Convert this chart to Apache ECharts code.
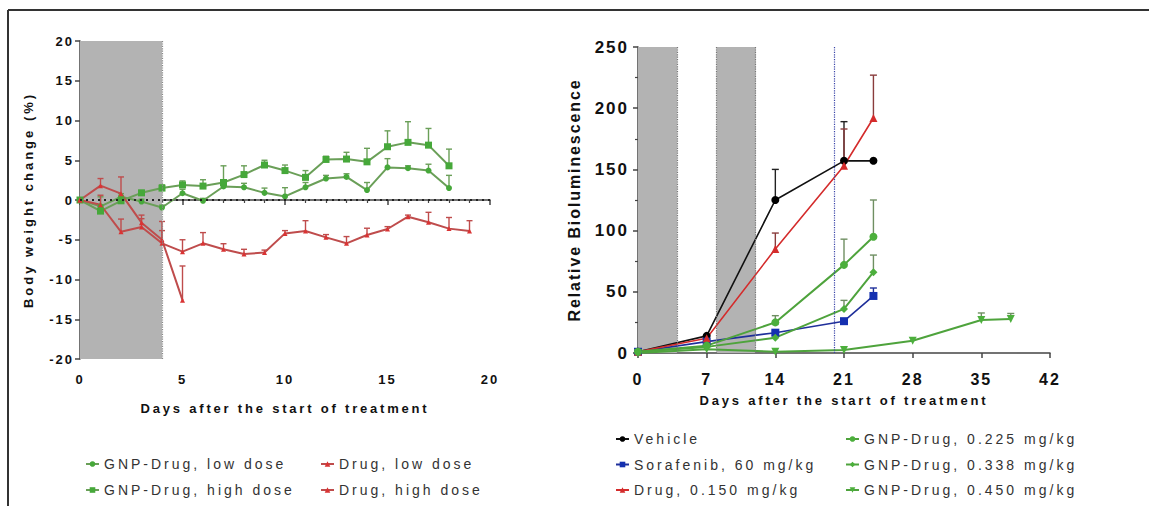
<!DOCTYPE html>
<html><head><meta charset="utf-8">
<script src="https://cdn.jsdelivr.net/npm/echarts@6/dist/echarts.min.js"></script>
<style>html,body{margin:0;padding:0;background:#fff}#c{width:1149px;height:506px}</style>
</head><body><div id="c"></div>
<script>
// ---------- Left chart: body weight change ----------
const leftDays = [0,1,2,3,4,5,6,7,8,9,10,11,12,13,14,15,16,17,18,19];
const gnpLow     = [0,-0.8,0.4,-0.2,-0.95,0.85,-0.1,1.7,1.6,0.9,0.45,1.6,2.7,2.9,1.25,4.1,4.0,3.7,1.5];
const gnpLowErr  = [0,1.2,0.4,0.3,0.3,0.5,0.3,0.5,0.5,0.6,1.1,0.6,0.4,0.4,0.95,1.1,0.3,0.8,1.6];
const gnpHigh    = [0,-1.4,-0.1,0.9,1.5,1.9,1.75,2.2,3.2,4.4,3.7,2.85,5.1,5.15,4.8,6.7,7.25,6.9,4.3];
const gnpHighErr = [0,0.3,0.3,0.3,0.4,0.5,0.8,2.1,1.1,0.6,0.7,0.85,0.4,0.85,1.7,2.0,2.6,2.1,2.1];
const drugLow    = [0,-0.6,-4.0,-3.4,-5.45,-6.5,-5.45,-6.2,-6.8,-6.6,-4.2,-3.9,-4.7,-5.45,-4.4,-3.65,-2.1,-2.8,-3.6,-3.9];
const drugLowErr = [0,1.2,1.6,1.5,1.6,1.5,1.35,0.7,0.6,0.3,0.35,1.3,0.35,0.85,0.85,0.3,0.2,1.25,1.4,1.3];
const drugHigh    = [0,1.8,0.8,-2.85,-5.0,-12.6];
const drugHighErr = [0,0.9,2.1,0.5,2.3,4.3];
const leftYTicks = {min:-20, max:20, interval:5};
const leftXTicks = {min:0, max:20, interval:5};

// ---------- Right chart: relative bioluminescence ----------
const rightDays = [0,7,14,21,24];
const vehicle      = [1,14,125,157,157];
const vehicleErr   = [0,0,25,32,0];
const sorafenib    = [1,9.3,16.6,26,46.6];
const sorafenibErr = [0,0,1.5,2,6.5];
const drug150      = [1,12,85,153,192];
const drug150Err   = [0,0,13,30,35];
const gnp225       = [1,6,25,72,95];
const gnp225Err    = [0,0,5.5,21,30];
const gnp338       = [1,5,12.5,36,66];
const gnp338Err    = [0,0,1.5,7,14];
const gnp450Days   = [0,7,14,21,28,35,38];
const gnp450       = [0,3,1,2.4,10,27,27.8];
const gnp450Err    = [0,0,0,0,0,5.7,4.5];
const rightYTicks = {min:0, max:250, interval:50};
const rightXTicks = {min:0, max:42, interval:7};

const xTitle = 'Days after the start of treatment';
const leftYTitle = 'Body weight change (%)';
const rightYTitle = 'Relative Bioluminescence';
const leftLegend1 = ['GNP-Drug, low dose','GNP-Drug, high dose'];
const leftLegend2 = ['Drug, low dose','Drug, high dose'];
const rightLegend1 = ['Vehicle','Sorafenib, 60 mg/kg','Drug, 0.150 mg/kg'];
const rightLegend2 = ['GNP-Drug, 0.225 mg/kg','GNP-Drug, 0.338 mg/kg','GNP-Drug, 0.450 mg/kg'];

const FONT = 'Liberation Sans';
const GREEN = '#46a83a', GREEN_L = '#6a9f58', RED = '#d93434', RED_L = '#bf4c4c';

function pairs(xs, ys){ return ys.map((v,i)=>[xs[i], v]); }
function errData(xs, ys, es){ return ys.map((v,i)=>[xs[i], v, v+es[i]]).filter((d,i)=>es[i]>0); }
function errRender(color, w){
  return function(params, api){
    const p0 = api.coord([api.value(0), api.value(1)]);
    const p1 = api.coord([api.value(0), api.value(2)]);
    return {type:'group', children:[
      {type:'line', shape:{x1:p0[0],y1:p0[1],x2:p1[0],y2:p1[1]}, style:{stroke:color, lineWidth:1.4}},
      {type:'line', shape:{x1:p1[0]-w,y1:p1[1],x2:p1[0]+w,y2:p1[1]}, style:{stroke:color, lineWidth:1.4}}
    ]};
  };
}
function errSeries(xi, data, color, w){
  return {type:'custom', xAxisIndex:xi, yAxisIndex:xi, data:data, renderItem:errRender(color, w||3), z:1, silent:true, encode:{x:0,y:1}};
}
function lineSeries(xi, name, data, lineColor, markColor, symbol, size, extra){
  return Object.assign({type:'line', name:name, xAxisIndex:xi, yAxisIndex:xi, data:data,
    symbol:symbol, symbolSize:size, showSymbol:true,
    lineStyle:{color:lineColor, width:2}, itemStyle:{color:markColor}, z:3}, extra||{});
}
const downTri = 'path://M0,0 L10,0 L5,9 Z';

const axisLine = {show:true, lineStyle:{color:'#444', width:1.5}};
const tickStyle = {show:true, length:5, lineStyle:{color:'#444', width:1.5}};
function legendCol(names, left, top, gap){
  return {data:names, orient:'vertical', left:left, top:top, padding:0, itemWidth:13, itemHeight:7, itemGap:gap,
    textStyle:{fontSize:14, color:'#333', lineHeight:16, fontFamily:FONT}};
}

const option = {
  animation:false,
  backgroundColor:'#fff',
  textStyle:{fontFamily:FONT},
  graphic:[
    {type:'line', shape:{x1:8, y1:10, x2:1149, y2:10}, style:{stroke:'#333', lineWidth:2}},
    {type:'line', shape:{x1:8, y1:10, x2:8, y2:506}, style:{stroke:'#333', lineWidth:2}}
  ],
  grid:[
    {left:80, top:41, width:410, height:318},
    {left:638, top:47, width:412, height:306}
  ],
  xAxis:[
    {gridIndex:0, type:'value', min:leftXTicks.min, max:leftXTicks.max, interval:leftXTicks.interval,
     axisLine:axisLine, axisTick:tickStyle, minorTick:{show:true, splitNumber:5, length:3, lineStyle:{color:'#444', width:1.2}},
     splitLine:{show:false},
     axisLabel:{color:'#111', fontWeight:'bold', fontSize:13, margin:14, fontFamily:FONT},
     name:xTitle, nameLocation:'middle', nameGap:43,
     nameTextStyle:{color:'#111', fontWeight:'bold', fontSize:13, fontFamily:FONT}},
    {gridIndex:1, type:'value', min:rightXTicks.min, max:rightXTicks.max, interval:rightXTicks.interval,
     axisLine:axisLine, axisTick:tickStyle, splitLine:{show:false},
     axisLabel:{color:'#111', fontWeight:'bold', fontSize:16, margin:18, fontFamily:FONT},
     name:xTitle, nameLocation:'middle', nameGap:41,
     nameTextStyle:{color:'#111', fontWeight:'bold', fontSize:13, fontFamily:FONT}}
  ],
  yAxis:[
    {gridIndex:0, type:'value', min:leftYTicks.min, max:leftYTicks.max, interval:leftYTicks.interval,
     axisLine:axisLine, axisTick:tickStyle, splitLine:{show:false},
     axisLabel:{color:'#111', fontWeight:'bold', fontSize:13, margin:6, fontFamily:FONT},
     name:leftYTitle, nameLocation:'middle', nameGap:45, nameRotate:90,
     nameTextStyle:{color:'#111', fontWeight:'bold', fontSize:13, fontFamily:FONT}},
    {gridIndex:1, type:'value', min:rightYTicks.min, max:rightYTicks.max, interval:rightYTicks.interval,
     axisLine:axisLine, axisTick:tickStyle, minorTick:{show:true, splitNumber:2, length:3, lineStyle:{color:'#444', width:1.2}},
     splitLine:{show:false},
     axisLabel:{color:'#111', fontWeight:'bold', fontSize:17, margin:9, fontFamily:FONT},
     name:rightYTitle, nameLocation:'middle', nameGap:56, nameRotate:90,
     nameTextStyle:{color:'#111', fontWeight:'bold', fontSize:16, fontFamily:FONT}}
  ],
  legend:[
    legendCol(leftLegend1, 85, 456, 10),
    legendCol(leftLegend2, 320, 456, 10),
    legendCol(rightLegend1, 615, 431, 9.5),
    legendCol(rightLegend2, 845, 431, 9.5)
  ],
  series:[
    // left chart
    lineSeries(0, 'GNP-Drug, low dose', pairs(leftDays, gnpLow), GREEN_L, GREEN, 'circle', 6, {
      markArea:{silent:true, itemStyle:{color:'#b3b3b3'}, data:[[{xAxis:0},{xAxis:4}]]},
      markLine:{silent:true, symbol:'none', label:{show:false}, data:[
        {xAxis:4, lineStyle:{color:'#888', type:'dotted', width:1.2}},
        {yAxis:0, lineStyle:{color:'#222', type:[2,4], width:2.2}}
      ]}
    }),
    lineSeries(0, 'GNP-Drug, high dose', pairs(leftDays, gnpHigh), GREEN_L, GREEN, 'rect', 7),
    lineSeries(0, 'Drug, low dose', pairs(leftDays, drugLow), RED_L, RED, 'triangle', 5),
    lineSeries(0, 'Drug, high dose', pairs(leftDays, drugHigh), RED_L, RED, 'triangle', 5),
    errSeries(0, errData(leftDays, gnpLow, gnpLowErr), GREEN_L),
    errSeries(0, errData(leftDays, gnpHigh, gnpHighErr), GREEN_L),
    errSeries(0, errData(leftDays, drugLow, drugLowErr), RED_L),
    errSeries(0, errData(leftDays, drugHigh, drugHighErr), RED_L),
    // right chart
    lineSeries(1, 'Vehicle', pairs(rightDays, vehicle), '#111', '#000', 'circle', 8, {
      lineStyle:{color:'#111', width:1.6},
      markArea:{silent:true, itemStyle:{color:'#b3b3b3'}, data:[[{xAxis:0},{xAxis:4}],[{xAxis:8},{xAxis:12}]]},
      markLine:{silent:true, symbol:'none', label:{show:false}, data:[
        {xAxis:4, lineStyle:{color:'#777', type:'dotted', width:1.2}},
        {xAxis:8, lineStyle:{color:'#777', type:'dotted', width:1.2}},
        {xAxis:12, lineStyle:{color:'#777', type:'dotted', width:1.2}},
        {xAxis:20, lineStyle:{color:'#3a45a8', type:'dotted', width:1.2}}
      ]}
    }),
    lineSeries(1, 'Sorafenib, 60 mg/kg', pairs(rightDays, sorafenib), '#1f2f9a', '#1530b0', 'rect', 8, {lineStyle:{color:'#1f2f9a', width:1.6}}),
    lineSeries(1, 'Drug, 0.150 mg/kg', pairs(rightDays, drug150), '#d42c2c', '#d42c2c', 'triangle', 8, {lineStyle:{color:'#d42c2c', width:1.6}}),
    lineSeries(1, 'GNP-Drug, 0.225 mg/kg', pairs(rightDays, gnp225), '#4ea33c', '#4caf3c', 'circle', 8, {lineStyle:{color:'#4ea33c', width:2}}),
    lineSeries(1, 'GNP-Drug, 0.338 mg/kg', pairs(rightDays, gnp338), '#4ea33c', '#4caf3c', 'diamond', 8, {lineStyle:{color:'#4ea33c', width:2}}),
    lineSeries(1, 'GNP-Drug, 0.450 mg/kg', pairs(gnp450Days, gnp450), '#4ea33c', '#4caf3c', downTri, 8, {lineStyle:{color:'#4ea33c', width:2}}),
    errSeries(1, errData(rightDays, vehicle, vehicleErr), '#222', 3.5),
    errSeries(1, errData(rightDays, sorafenib, sorafenibErr), '#1f2f9a', 3.5),
    errSeries(1, errData(rightDays, drug150, drug150Err), '#8a3c3c', 3.5),
    errSeries(1, errData(rightDays, gnp225, gnp225Err), '#6f8f62', 3.5),
    errSeries(1, errData(rightDays, gnp338, gnp338Err), '#6f8f62', 3.5),
    errSeries(1, errData(gnp450Days, gnp450, gnp450Err), '#6f8f62', 3.5)
  ]
};

const chart = echarts.init(document.getElementById('c'), null, {renderer:'svg', width:1149, height:506});
chart.setOption(option);

const legendAll = leftLegend1.concat(leftLegend2, rightLegend1, rightLegend2);
function applySpacing(){
  document.querySelectorAll('#c svg text').forEach(t=>{
    const s = t.textContent.trim();
    let ls = 0;
    if (legendAll.indexOf(s) >= 0) ls = 3;
    else if (s === xTitle) ls = 2.8;
    else if (s === leftYTitle) ls = 3;
    else if (s === rightYTitle) ls = 1.9;
    else if (/^-?\d+$/.test(s)) ls = 2;
    if (ls) { t.style.letterSpacing = ls + 'px'; t.setAttribute('letter-spacing', ls); }
  });
}
applySpacing();
chart.on('finished', applySpacing);
setTimeout(applySpacing, 50);
</script>
</body></html>
